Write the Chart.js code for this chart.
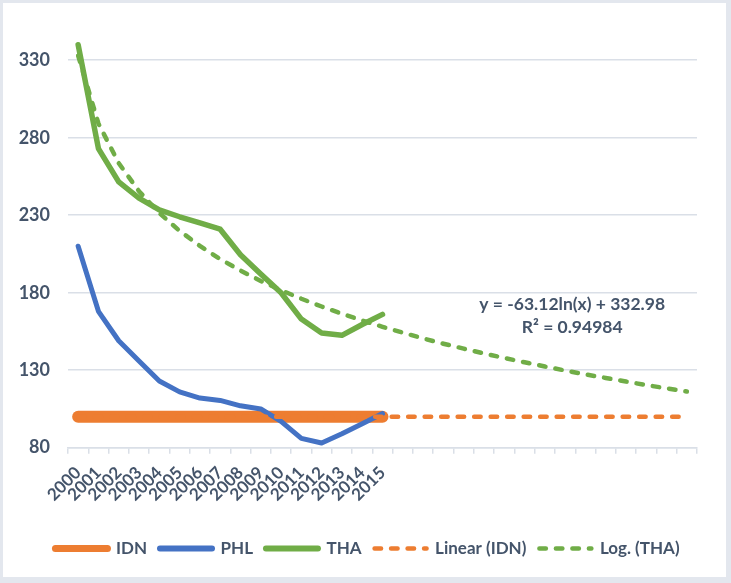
<!DOCTYPE html>
<html>
<head>
<meta charset="utf-8">
<script src="https://cdn.jsdelivr.net/npm/chart.js@4.4.1/dist/chart.umd.min.js"></script>
<style>
  html, body { margin: 0; padding: 0; background: #e3e7ee; }
  #wrap { position: absolute; left: 3px; top: 3px; width: 723px; height: 574px; background: #fff; }
</style>
</head>
<body>
<div id="wrap"><canvas id="myChart"></canvas></div>
<script>
'use strict';

// data
let years = ['2000','2001','2002','2003','2004','2005','2006','2007','2008','2009','2010','2011','2012','2013','2014','2015'];
let forecastSlots = ['','','','','','','','','','','','','','',''];
let idnValues = [100,100,100,100,100,100,100,100,100,100,100,100,100,100,100,100];
let phlValues = [210,168,149,136,123,116,112,110.5,107,105,97,86,83,89,95.5,102];
let thaValues = [340,273,251.5,241,233.5,229,225,221,204.5,192,180,163,154,152.5,159.5,166];
let idnLinear = [100,100,100,100,100,100,100,100,100,100,100,100,100,100,100,100,
  100,100,100,100,100,100,100,100,100,100,100,100,100,100,100];
let thaLog = [333.0,289.2,263.6,245.5,231.4,219.9,210.2,201.7,194.3,187.6,181.6,176.1,171.1,166.4,162.1,158.0,
  154.2,150.5,147.1,143.9,140.8,137.9,135.1,132.4,129.8,127.3,125.0,122.7,120.4,118.3,116.2];
let yTicks = [80,130,180,230,280,330];
let trendText = ['y = -63.12ln(x) + 332.98', 'R\u00b2 = 0.94984'];

let labels = years.concat(forecastSlots);

const textColor = '#44546a';
const gridColor = '#dadfe7';
const fontName = 'Lato';
// legend symbols are drawn thinner than the plotted lines
const legendWidths = [7, 6, 6, 4.5, 4.5];

let ctx = document.getElementById('myChart').getContext('2d');

// equation text for the log trendline
const trendLabel = {
  id: 'trendLabel',
  afterDatasetsDraw(chart) {
    const c = chart.ctx;
    const x = chart.scales.x;
    const y = chart.scales.y;
    const cx = x.getPixelForValue(24.35);
    c.save();
    c.font = 'bold 17.5px ' + fontName;
    c.fillStyle = textColor;
    c.textAlign = 'center';
    c.textBaseline = 'middle';
    c.fillText(trendText[0], cx, y.getPixelForValue(172.5));
    c.fillText(trendText[1], cx, y.getPixelForValue(157.8));
    c.restore();
  }
};

// centre the legend on the whole canvas, not on the padded area
const legendCentre = {
  id: 'legendCentre',
  afterLayout(chart) {
    chart.legend.left = 6;
    chart.legend.right = chart.width;
  }
};

function lineSet(label, data, color, width, order, dash) {
  return {
    label: label,
    data: data,
    borderColor: color,
    backgroundColor: color,
    borderWidth: width,
    borderDash: dash || [],
    borderCapStyle: 'round',
    borderJoinStyle: 'round',
    pointRadius: 0,
    pointHoverRadius: 0,
    pointStyle: 'line',
    tension: 0,
    fill: false,
    order: order
  };
}

let myChartObj = {
  type: 'line',
  data: {
    labels: labels,
    datasets: [
      lineSet('IDN', idnValues, '#ed7d31', 12, 5),
      lineSet('PHL', phlValues, '#4472c4', 5, 4),
      lineSet('THA', thaValues, '#70ad47', 5.5, 3),
      lineSet('Linear (IDN)', idnLinear, '#ed7d31', 4.5, 2, [6.5, 10]),
      lineSet('Log. (THA)', thaLog, '#70ad47', 4.5, 1, [6.5, 10])
    ]
  },
  options: {
    responsive: true,
    maintainAspectRatio: false,
    animation: false,
    layout: {
      padding: { left: 16, right: 29, top: 34, bottom: 10 }
    },
    scales: {
      x: {
        offset: true,
        afterFit: function(scale) {
          // rotated labels may hang past the plot edge, as in the original
          scale.paddingLeft = 0;
          scale.paddingRight = 0;
          scale.height += 13;
        },
        grid: {
          offset: true,
          drawOnChartArea: false,
          drawTicks: true,
          tickLength: 6,
          color: gridColor,
          lineWidth: 1.5
        },
        border: { color: gridColor, width: 1.5 },
        ticks: {
          autoSkip: false,
          minRotation: 45,
          maxRotation: 45,
          padding: 9,
          color: textColor,
          font: { family: fontName, size: 17, weight: 'bold' }
        }
      },
      y: {
        min: 80,
        max: 345,
        afterBuildTicks: function(scale) {
          scale.ticks = yTicks.map(v => ({ value: v }));
        },
        afterFit: function(scale) {
          scale.width = 49;
        },
        grid: { color: gridColor, lineWidth: 1.5, drawTicks: false },
        border: { display: false },
        ticks: {
          padding: 18,
          color: textColor,
          font: { family: fontName, size: 18, weight: 'bold' }
        }
      }
    },
    plugins: {
      tooltip: { enabled: false },
      legend: {
        position: 'bottom',
        labels: {
          usePointStyle: true,
          pointStyleWidth: 52,
          padding: 13,
          color: textColor,
          font: { family: fontName, size: 17, weight: 'bold' },
          sort: (a, b) => a.datasetIndex - b.datasetIndex,
          generateLabels: function(chart) {
            let items = Chart.defaults.plugins.legend.labels.generateLabels(chart);
            items.forEach(item => {
              let ds = chart.data.datasets[item.datasetIndex];
              item.lineWidth = legendWidths[item.datasetIndex];
              item.lineDash = ds.borderDash;
              item.lineCap = 'round';
              item.strokeStyle = ds.borderColor;
            });
            return items;
          }
        }
      }
    }
  },
  plugins: [trendLabel, legendCentre]
};

const myChart = new Chart(ctx, myChartObj);
</script>
</body>
</html>
